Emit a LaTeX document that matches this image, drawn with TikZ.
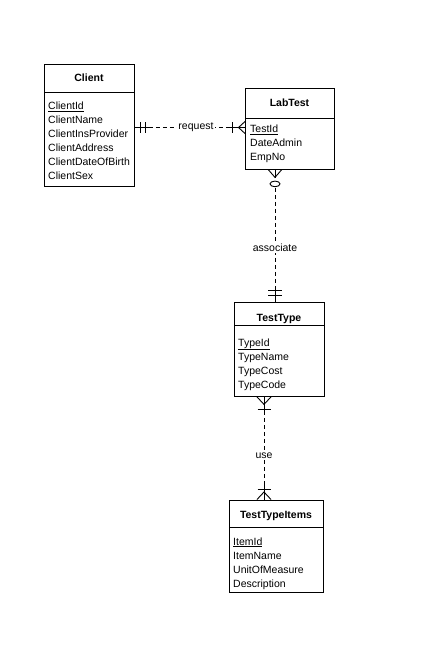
\documentclass[tikz,border=0pt]{standalone}
\usepackage{fontspec}
\setmainfont{Liberation Sans}
\begin{document}
\begin{tikzpicture}[x=1pt,y=-1pt,
  entity/.style={draw, line width=0.9pt, anchor=north west, inner sep=0pt},
  sep/.style={line width=0.9pt},
  etitle/.style={anchor=base, inner sep=0pt, font=\fontsize{10.5}{12}\selectfont\bfseries},
  attr/.style={anchor=base west, inner sep=0pt, font=\fontsize{10.5}{12}\selectfont},
  rel/.style={line width=0.9pt, dash pattern=on 4pt off 3pt},
  endln/.style={line width=0.9pt},
  lbl/.style={fill=white, inner sep=1pt, font=\fontsize{10.5}{12}\selectfont}]
\useasboundingbox (0,0) rectangle (437,656);

% ---- entities ----
\node[entity, minimum width=90pt, minimum height=121.5pt] (client) at (44,64) {};
\draw[sep] (client.west |- 0,92) -- (client.east |- 0,92);
\node[etitle] (clientT) at (89,81) {Client};
\begin{scope}
  \clip (client.north west) rectangle (client.south east);
  \node[attr] (c1) at (48,109.5) {\underline{ClientId}};
  \node[attr] (c2) at (48,123.5) {ClientName};
  \node[attr] (c3) at (48,137.5) {ClientInsProvider};
  \node[attr] (c4) at (48,151.5) {ClientAddress};
  \node[attr] (c5) at (48,165.5) {ClientDateOfBirth};
  \node[attr] (c6) at (48,179.5) {ClientSex};
\end{scope}

\node[entity, minimum width=89pt, minimum height=81pt] (labtest) at (245,88) {};
\draw[sep] (labtest.west |- 0,118) -- (labtest.east |- 0,118);
\node[etitle] (labtestT) at (289.5,106.5) {LabTest};
\node[attr] (l1) at (250,132.5) {\underline{TestId}};
\node[attr] (l2) at (250,146.5) {DateAdmin};
\node[attr] (l3) at (250,160.5) {EmpNo};

\node[entity, minimum width=90pt, minimum height=94.5pt] (testtype) at (234,301.5) {};
\draw[sep] (testtype.west |- 0,325.5) -- (testtype.east |- 0,325.5);
\node[etitle] (testtypeT) at (279,321) {TestType};
\node[attr] (t1) at (238,346) {\underline{TypeId}};
\node[attr] (t2) at (238,360) {TypeName};
\node[attr] (t3) at (238,374) {TypeCost};
\node[attr] (t4) at (238,388) {TypeCode};

\node[entity, minimum width=94pt, minimum height=92.5pt] (items) at (229,499.5) {};
\draw[sep] (items.west |- 0,527) -- (items.east |- 0,527);
\node[etitle] (itemsT) at (276,518) {TestTypeItems};
\node[attr] (i1) at (233,545) {\underline{ItemId}};
\node[attr] (i2) at (233,559) {ItemName};
\node[attr] (i3) at (233,573) {UnitOfMeasure};
\node[attr] (i4) at (233,587) {Description};

% ---- relationship: request ----
\coordinate (reqy) at (0,127.5);
\coordinate (rq1) at (client.east |- reqy);
\coordinate (rq2) at (labtest.west |- reqy);
\draw[rel] (rq1) -- node[lbl, pos=0.555] {request} (rq2);
% one and only one (Client side)
\draw[endln] (rq1) -- ++(14,0);
\draw[endln] (rq1) ++(6,-5.5) -- ++(0,11) (rq1) ++(10.5,-5.5) -- ++(0,11);
% one or many (LabTest side)
\draw[endln] (rq2) -- ++(-19,0);
\draw[endln] (rq2) ++(-12.5,-5.5) -- ++(0,11);
\draw[endln] (rq2) ++(0,-6) -- ++(-6.5,6) -- ++(6.5,6);

% ---- relationship: associate ----
\coordinate (ax) at (275,0);
\coordinate (as1) at (labtest.south -| ax);
\coordinate (as2) at (testtype.north -| ax);
\draw[rel] (as1) ++(0,18) -- node[lbl, pos=0.53] {associate} (as2);
% zero or many (LabTest side)
\draw[endln] (as1) -- ++(0,8);
\draw[endln] (as1) ++(-6.5,0) -- ++(6.5,7.5) -- ++(6.5,-7.5);
\draw[endln, fill=white] (as1) ++(0,14) ellipse [x radius=5pt, y radius=2.8pt];
% one and only one (TestType side)
\draw[endln] (as2) -- ++(0,-16);
\draw[endln] (as2) ++(-7,-6.5) -- ++(14,0) (as2) ++(-7,-11) -- ++(14,0);

% ---- relationship: use ----
\coordinate (ux) at (264,0);
\coordinate (u1) at (testtype.south -| ux);
\coordinate (u2) at (items.north -| ux);
\draw[rel] (u1) -- node[lbl, pos=0.57] {use} (u2);
% one or many (TestType side)
\draw[endln] (u1) -- ++(0,18);
\draw[endln] (u1) ++(-7,0) -- ++(7,7.5) -- ++(7,-7.5);
\draw[endln] (u1) ++(-6.5,12.5) -- ++(13,0);
% one or many (TestTypeItems side)
\draw[endln] (u2) -- ++(0,-18);
\draw[endln] (u2) ++(-7,0) -- ++(7,-7.5) -- ++(7,7.5);
\draw[endln] (u2) ++(-6.5,-10.5) -- ++(13,0);
\end{tikzpicture}
\end{document}
